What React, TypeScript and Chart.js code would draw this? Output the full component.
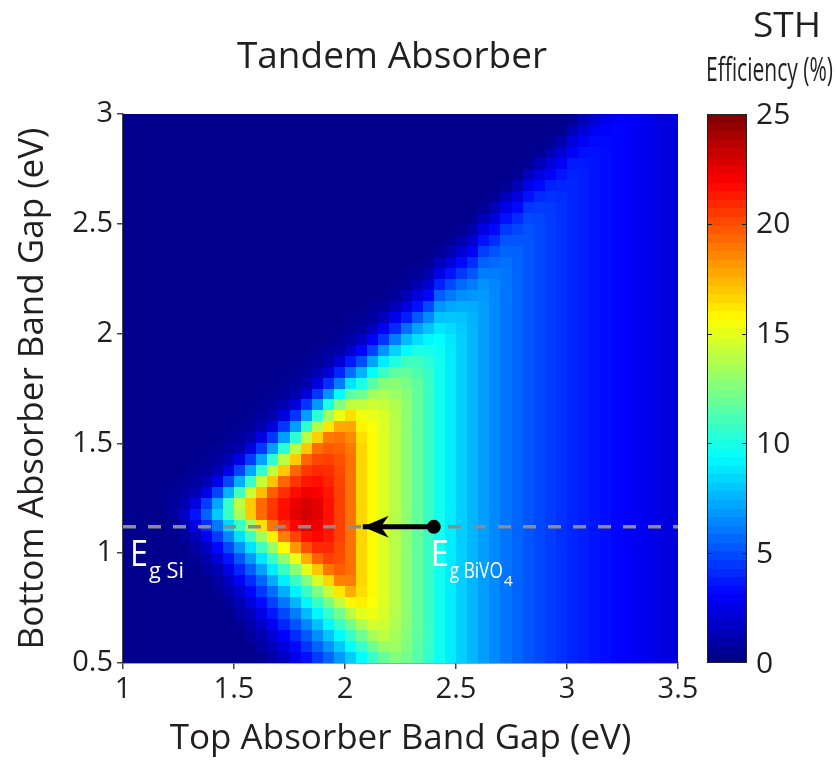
import React, { useEffect, useRef } from "react";
import { Chart, registerables } from "chart.js";

Chart.register(...registerables);

const FONT = '"Open Sans", "Liberation Sans", sans-serif';
const TEXT = "#231f20";

// Top absorber band gap – cell centres (eV)
const topGap = [
  1.025, 1.075, 1.125, 1.175, 1.225, 1.275, 1.325, 1.375, 1.425, 1.475,
  1.525, 1.575, 1.625, 1.675, 1.725, 1.775, 1.825, 1.875, 1.925, 1.975,
  2.025, 2.075, 2.125, 2.175, 2.225, 2.275, 2.325, 2.375, 2.425, 2.475,
  2.525, 2.575, 2.625, 2.675, 2.725, 2.775, 2.825, 2.875, 2.925, 2.975,
  3.025, 3.075, 3.125, 3.175, 3.225, 3.275, 3.325, 3.375, 3.425, 3.475,
];
// Bottom absorber band gap – cell centres (eV)
const bottomGap = [
  0.525, 0.575, 0.625, 0.675, 0.725, 0.775, 0.825, 0.875, 0.925, 0.975,
  1.025, 1.075, 1.125, 1.175, 1.225, 1.275, 1.325, 1.375, 1.425, 1.475,
  1.525, 1.575, 1.625, 1.675, 1.725, 1.775, 1.825, 1.875, 1.925, 1.975,
  2.025, 2.075, 2.125, 2.175, 2.225, 2.275, 2.325, 2.375, 2.425, 2.475,
  2.525, 2.575, 2.625, 2.675, 2.725, 2.775, 2.825, 2.875, 2.925, 2.975,
];

const N = 0.3; // dark-blue background level

// STH efficiency (%) : one row per bottom gap (0.525 eV first), one value per top gap
const sthEfficiency: number[][] = [
  [N, N, N, N, N, N, N, N, N, N,  N, N, 0.5, 1.0, 1.6, 2.6, 3.5, 4.6, 5.6, 6.9,  8.1, 9.4, 10.7, 11.9, 12.6, 12.2, 11.5, 10.6, 9.7, 8.9,  8.2, 7.6, 7.0, 6.5, 6.0, 5.6, 5.2, 4.9, 4.6, 4.3,  4.0, 3.8, 3.6, 3.4, 3.2, 3.0, 2.8, 2.6, 2.4, 2.3],
  [N, N, N, N, N, N, N, N, N, N,  N, N, 0.9, 1.4, 2.3, 3.3, 4.4, 5.5, 6.7, 8.0,  9.4, 10.7, 12.0, 13.0, 13.2, 12.5, 11.6, 10.7, 9.8, 8.9,  8.2, 7.6, 7.0, 6.5, 6.0, 5.6, 5.2, 4.9, 4.6, 4.3,  4.0, 3.8, 3.6, 3.4, 3.2, 3.0, 2.8, 2.6, 2.4, 2.3],
  [N, N, N, N, N, N, N, N, N, N,  N, 0.7, 1.2, 2.1, 3.1, 4.2, 5.3, 6.6, 7.9, 9.3,  10.7, 12.1, 13.4, 14.0, 13.4, 12.6, 11.7, 10.8, 9.8, 8.9,  8.2, 7.6, 7.0, 6.5, 6.0, 5.6, 5.2, 4.9, 4.6, 4.3,  4.0, 3.8, 3.6, 3.4, 3.2, 3.0, 2.8, 2.6, 2.4, 2.3],
  [N, N, N, N, N, N, N, N, N, N,  0.5, 1.1, 1.8, 2.8, 4.0, 5.1, 6.4, 7.8, 9.3, 10.7,  12.2, 13.6, 14.6, 14.4, 13.6, 12.7, 11.8, 10.8, 9.8, 8.9,  8.2, 7.6, 7.0, 6.5, 6.0, 5.6, 5.2, 4.9, 4.6, 4.3,  4.0, 3.8, 3.6, 3.4, 3.2, 3.0, 2.8, 2.6, 2.4, 2.3],
  [N, N, N, N, N, N, N, N, N, N,  0.9, 1.5, 2.5, 3.7, 4.9, 6.2, 7.7, 9.2, 10.7, 12.2,  13.9, 15.0, 15.2, 14.7, 13.8, 12.8, 11.8, 10.8, 9.8, 8.9,  8.2, 7.6, 7.0, 6.5, 6.0, 5.6, 5.2, 4.9, 4.6, 4.3,  4.0, 3.8, 3.6, 3.4, 3.2, 3.0, 2.8, 2.6, 2.4, 2.3],
  [N, N, N, N, N, N, N, N, N, 0.7,  1.3, 2.3, 3.4, 4.7, 6.0, 7.6, 9.2, 10.8, 12.3, 14.1,  15.8, 16.0, 15.6, 14.8, 13.8, 12.8, 11.8, 10.8, 9.8, 8.9,  8.2, 7.6, 7.0, 6.5, 6.0, 5.6, 5.2, 4.9, 4.6, 4.3,  4.0, 3.8, 3.6, 3.4, 3.2, 3.0, 2.8, 2.6, 2.4, 2.3],
  [N, N, N, N, N, N, N, N, 0.5, 1.1,  1.9, 3.2, 4.5, 5.8, 7.4, 9.1, 10.8, 12.4, 14.3, 16.2,  17.6, 16.4, 15.7, 14.8, 13.8, 12.8, 11.8, 10.8, 9.8, 8.9,  8.2, 7.6, 7.0, 6.5, 6.0, 5.6, 5.2, 4.9, 4.6, 4.3,  4.0, 3.8, 3.6, 3.4, 3.2, 3.0, 2.8, 2.6, 2.4, 2.3],
  [N, N, N, N, N, N, N, N, 0.9, 1.6,  2.9, 4.2, 5.6, 7.3, 9.0, 10.8, 12.5, 14.6, 16.6, 18.7,  18.8, 16.6, 15.7, 14.8, 13.8, 12.8, 11.8, 10.8, 9.8, 8.9,  8.2, 7.6, 7.0, 6.5, 6.0, 5.6, 5.2, 4.9, 4.6, 4.3,  4.0, 3.8, 3.6, 3.4, 3.2, 3.0, 2.8, 2.6, 2.4, 2.3],
  [N, N, N, N, N, N, N, 0.7, 1.3, 2.5,  4.0, 5.4, 7.1, 8.9, 10.8, 12.7, 14.9, 17.0, 19.0, 19.6,  19.1, 16.6, 15.7, 14.8, 13.8, 12.8, 11.8, 10.8, 9.8, 8.9,  8.2, 7.6, 7.0, 6.5, 6.0, 5.6, 5.2, 4.9, 4.6, 4.3,  4.0, 3.8, 3.6, 3.4, 3.2, 3.0, 2.8, 2.6, 2.4, 2.3],
  [N, N, N, N, N, N, 0.5, 1.1, 2.2, 3.6,  5.2, 6.9, 8.8, 10.8, 12.9, 15.2, 17.6, 19.5, 20.3, 20.0,  19.1, 16.6, 15.7, 14.8, 13.8, 12.8, 11.8, 10.8, 9.8, 8.9,  8.2, 7.6, 7.0, 6.5, 6.0, 5.6, 5.2, 4.9, 4.6, 4.3,  4.0, 3.8, 3.6, 3.4, 3.2, 3.0, 2.8, 2.6, 2.4, 2.3],
  [N, N, N, N, N, N, 0.9, 1.7, 3.3, 4.9,  6.7, 8.7, 10.9, 13.1, 15.6, 18.2, 19.9, 20.9, 20.9, 20.1,  19.1, 16.6, 15.7, 14.8, 13.8, 12.8, 11.8, 10.8, 9.8, 8.9,  8.2, 7.6, 7.0, 6.5, 6.0, 5.6, 5.2, 4.9, 4.6, 4.3,  4.0, 3.8, 3.6, 3.4, 3.2, 3.0, 2.8, 2.6, 2.4, 2.3],
  [N, N, N, N, N, 0.7, 1.4, 2.9, 4.6, 6.4,  8.6, 10.9, 13.3, 16.0, 18.8, 20.2, 21.4, 21.8, 21.3, 20.3,  19.1, 16.6, 15.7, 14.8, 13.8, 12.8, 11.8, 10.8, 9.8, 8.9,  8.2, 7.6, 7.0, 6.5, 6.0, 5.6, 5.2, 4.9, 4.6, 4.3,  4.0, 3.8, 3.6, 3.4, 3.2, 3.0, 2.8, 2.6, 2.4, 2.3],
  [N, N, N, N, 0.5, 1.2, 2.5, 4.3, 6.1, 8.4,  10.8, 13.4, 16.4, 19.0, 20.7, 21.8, 22.6, 22.3, 21.4, 20.3,  19.1, 16.6, 15.7, 14.8, 13.8, 12.8, 11.8, 10.8, 9.8, 8.9,  8.2, 7.6, 7.0, 6.5, 6.0, 5.6, 5.2, 4.9, 4.6, 4.3,  4.0, 3.8, 3.6, 3.4, 3.2, 3.0, 2.8, 2.6, 2.4, 2.3],
  [N, N, N, N, 0.8, 1.8, 3.6, 5.6, 8.1, 10.7,  13.5, 16.9, 19.3, 20.6, 21.6, 22.5, 23.0, 22.6, 21.5, 20.3,  19.1, 16.6, 15.7, 14.8, 13.8, 12.8, 11.8, 10.8, 9.8, 8.9,  8.2, 7.6, 7.0, 6.5, 6.0, 5.6, 5.2, 4.9, 4.6, 4.3,  4.0, 3.8, 3.6, 3.4, 3.2, 3.0, 2.8, 2.6, 2.4, 2.3],
  [N, N, N, 0.4, 0.7, 1.2, 2.4, 4.6, 7.2, 10.7,  14.0, 16.9, 19.3, 20.5, 21.5, 22.4, 22.9, 22.5, 21.5, 20.3,  19.1, 16.6, 15.7, 14.8, 13.8, 12.8, 11.8, 10.8, 9.8, 8.9,  8.2, 7.6, 7.0, 6.5, 6.0, 5.6, 5.2, 4.9, 4.6, 4.3,  4.0, 3.8, 3.6, 3.4, 3.2, 3.0, 2.8, 2.6, 2.4, 2.3],
  [N, N, N, 0.4, 0.5, 0.8, 1.3, 2.5, 4.8, 7.5,  11.0, 14.4, 17.2, 19.6, 20.7, 21.6, 22.2, 22.0, 21.3, 20.3,  19.1, 16.6, 15.7, 14.8, 13.8, 12.8, 11.8, 10.8, 9.8, 8.9,  8.2, 7.6, 7.0, 6.5, 6.0, 5.6, 5.2, 4.9, 4.6, 4.3,  4.0, 3.8, 3.6, 3.4, 3.2, 3.0, 2.8, 2.6, 2.4, 2.3],
  [N, N, N, N, 0.4, 0.5, 0.8, 1.3, 2.5, 4.8,  7.4, 10.8, 14.2, 17.1, 19.4, 20.6, 21.3, 21.5, 21.0, 20.2,  19.1, 16.6, 15.7, 14.8, 13.8, 12.8, 11.8, 10.8, 9.8, 8.9,  8.2, 7.6, 7.0, 6.5, 6.0, 5.6, 5.2, 4.9, 4.6, 4.3,  4.0, 3.8, 3.6, 3.4, 3.2, 3.0, 2.8, 2.6, 2.4, 2.3],
  [N, N, N, N, N, 0.4, 0.5, 0.8, 1.3, 2.5,  4.7, 7.2, 10.6, 14.0, 16.9, 19.4, 20.5, 20.9, 20.8, 20.1,  19.1, 16.6, 15.7, 14.8, 13.8, 12.8, 11.8, 10.8, 9.8, 8.9,  8.2, 7.6, 7.0, 6.5, 6.0, 5.6, 5.2, 4.9, 4.6, 4.3,  4.0, 3.8, 3.6, 3.4, 3.2, 3.0, 2.8, 2.6, 2.4, 2.3],
  [N, N, N, N, N, N, 0.4, 0.5, 0.8, 1.3,  2.5, 4.6, 7.1, 10.5, 13.9, 16.9, 19.4, 20.2, 20.3, 19.9,  19.1, 16.6, 15.7, 14.8, 13.8, 12.8, 11.8, 10.8, 9.8, 8.9,  8.2, 7.6, 7.0, 6.5, 6.0, 5.6, 5.2, 4.9, 4.6, 4.3,  4.0, 3.8, 3.6, 3.4, 3.2, 3.0, 2.8, 2.6, 2.4, 2.3],
  [N, N, N, N, N, N, N, 0.4, 0.5, 0.8,  1.2, 2.4, 4.5, 7.0, 10.4, 13.9, 17.0, 19.2, 19.7, 19.5,  18.9, 16.6, 15.7, 14.8, 13.8, 12.8, 11.8, 10.8, 9.8, 8.9,  8.2, 7.6, 7.0, 6.5, 6.0, 5.6, 5.2, 4.9, 4.6, 4.3,  4.0, 3.8, 3.6, 3.4, 3.2, 3.0, 2.8, 2.6, 2.4, 2.3],
  [N, N, N, N, N, N, N, N, 0.4, 0.5,  0.7, 1.2, 2.4, 4.4, 7.0, 10.4, 14.0, 16.8, 18.9, 19.1,  18.5, 16.4, 15.7, 14.8, 13.8, 12.8, 11.8, 10.8, 9.8, 8.9,  8.2, 7.6, 7.0, 6.5, 6.0, 5.6, 5.2, 4.9, 4.6, 4.3,  4.0, 3.8, 3.6, 3.4, 3.2, 3.0, 2.8, 2.6, 2.4, 2.3],
  [N, N, N, N, N, N, N, N, N, 0.4,  0.5, 0.7, 1.2, 2.3, 4.4, 7.0, 10.5, 13.8, 16.2, 17.7,  17.8, 15.9, 15.5, 14.8, 13.8, 12.8, 11.8, 10.8, 9.8, 8.9,  8.2, 7.6, 7.0, 6.5, 6.0, 5.6, 5.2, 4.9, 4.6, 4.3,  4.0, 3.8, 3.6, 3.4, 3.2, 3.0, 2.8, 2.6, 2.4, 2.3],
  [N, N, N, N, N, N, N, N, N, N,  0.4, 0.5, 0.7, 1.2, 2.3, 4.4, 7.0, 10.4, 13.3, 15.2,  16.4, 15.3, 15.1, 14.7, 13.8, 12.8, 11.8, 10.8, 9.8, 8.9,  8.2, 7.6, 7.0, 6.5, 6.0, 5.6, 5.2, 4.9, 4.6, 4.3,  4.0, 3.8, 3.6, 3.4, 3.2, 3.0, 2.8, 2.6, 2.4, 2.3],
  [N, N, N, N, N, N, N, N, N, N,  N, 0.4, 0.5, 0.7, 1.2, 2.3, 4.4, 6.9, 10.0, 12.5,  14.1, 14.1, 14.4, 14.2, 13.7, 12.8, 11.8, 10.8, 9.8, 8.9,  8.2, 7.6, 7.0, 6.5, 6.0, 5.6, 5.2, 4.9, 4.6, 4.3,  4.0, 3.8, 3.6, 3.4, 3.2, 3.0, 2.8, 2.6, 2.4, 2.3],
  [N, N, N, N, N, N, N, N, N, N,  N, N, 0.4, 0.5, 0.7, 1.2, 2.3, 4.4, 6.7, 9.4,  11.6, 12.1, 13.3, 13.6, 13.2, 12.7, 11.8, 10.8, 9.8, 8.9,  8.2, 7.6, 7.0, 6.5, 6.0, 5.6, 5.2, 4.9, 4.6, 4.3,  4.0, 3.8, 3.6, 3.4, 3.2, 3.0, 2.8, 2.6, 2.4, 2.3],
  [N, N, N, N, N, N, N, N, N, N,  N, N, N, 0.4, 0.5, 0.7, 1.2, 2.3, 4.2, 6.2,  8.7, 10.0, 11.5, 12.6, 12.7, 12.3, 11.7, 10.8, 9.8, 8.9,  8.2, 7.6, 7.0, 6.5, 6.0, 5.6, 5.2, 4.9, 4.6, 4.3,  4.0, 3.8, 3.6, 3.4, 3.2, 3.0, 2.8, 2.6, 2.4, 2.3],
  [N, N, N, N, N, N, N, N, N, N,  N, N, N, N, 0.4, 0.5, 0.7, 1.2, 2.2, 4.0,  5.8, 7.5, 9.4, 10.8, 11.7, 11.8, 11.3, 10.7, 9.8, 8.9,  8.2, 7.6, 7.0, 6.5, 6.0, 5.6, 5.2, 4.9, 4.6, 4.3,  4.0, 3.8, 3.6, 3.4, 3.2, 3.0, 2.8, 2.6, 2.4, 2.3],
  [N, N, N, N, N, N, N, N, N, N,  N, N, N, N, N, N, 0.5, 0.7, 1.1, 2.1,  3.7, 5.0, 7.1, 8.9, 10.1, 10.9, 10.9, 10.4, 9.8, 8.9,  8.2, 7.6, 7.0, 6.5, 6.0, 5.6, 5.2, 4.9, 4.6, 4.3,  4.0, 3.8, 3.6, 3.4, 3.2, 3.0, 2.8, 2.6, 2.4, 2.3],
  [N, N, N, N, N, N, N, N, N, N,  N, N, N, N, N, N, N, 0.5, 0.7, 1.0,  1.9, 3.2, 4.7, 6.7, 8.3, 9.3, 10.0, 9.9, 9.7, 8.9,  8.2, 7.6, 7.0, 6.5, 6.0, 5.6, 5.2, 4.9, 4.6, 4.3,  4.0, 3.8, 3.6, 3.4, 3.2, 3.0, 2.8, 2.6, 2.4, 2.3],
  [N, N, N, N, N, N, N, N, N, N,  N, N, N, N, N, N, N, N, 0.4, 0.6,  1.0, 1.7, 3.0, 4.4, 6.2, 7.7, 8.6, 9.2, 9.4, 8.8,  8.2, 7.6, 7.0, 6.5, 6.0, 5.6, 5.2, 4.9, 4.6, 4.3,  4.0, 3.8, 3.6, 3.4, 3.2, 3.0, 2.8, 2.6, 2.4, 2.3],
  [N, N, N, N, N, N, N, N, N, N,  N, N, N, N, N, N, N, N, N, 0.4,  0.6, 0.8, 1.6, 2.8, 4.1, 5.8, 7.1, 7.9, 8.8, 8.5,  8.1, 7.6, 7.0, 6.5, 6.0, 5.6, 5.2, 4.9, 4.6, 4.3,  4.0, 3.8, 3.6, 3.4, 3.2, 3.0, 2.8, 2.6, 2.4, 2.3],
  [N, N, N, N, N, N, N, N, N, N,  N, N, N, N, N, N, N, N, N, N,  0.4, 0.5, 0.8, 1.5, 2.6, 3.8, 5.3, 6.5, 7.9, 8.0,  7.9, 7.5, 7.0, 6.5, 6.0, 5.6, 5.2, 4.9, 4.6, 4.3,  4.0, 3.8, 3.6, 3.4, 3.2, 3.0, 2.8, 2.6, 2.4, 2.3],
  [N, N, N, N, N, N, N, N, N, N,  N, N, N, N, N, N, N, N, N, N,  N, N, 0.5, 0.7, 1.4, 2.4, 3.5, 4.9, 6.8, 7.2,  7.4, 7.3, 7.0, 6.5, 6.0, 5.6, 5.2, 4.9, 4.6, 4.3,  4.0, 3.8, 3.6, 3.4, 3.2, 3.0, 2.8, 2.6, 2.4, 2.3],
  [N, N, N, N, N, N, N, N, N, N,  N, N, N, N, N, N, N, N, N, N,  N, N, N, 0.4, 0.7, 1.3, 2.2, 3.2, 5.4, 6.1,  6.6, 6.8, 6.9, 6.5, 6.0, 5.6, 5.2, 4.9, 4.6, 4.3,  4.0, 3.8, 3.6, 3.4, 3.2, 3.0, 2.8, 2.6, 2.4, 2.3],
  [N, N, N, N, N, N, N, N, N, N,  N, N, N, N, N, N, N, N, N, N,  N, N, N, N, 0.4, 0.6, 1.2, 2.1, 3.9, 4.9,  5.7, 6.2, 6.7, 6.4, 6.0, 5.6, 5.2, 4.9, 4.6, 4.3,  4.0, 3.8, 3.6, 3.4, 3.2, 3.0, 2.8, 2.6, 2.4, 2.3],
  [N, N, N, N, N, N, N, N, N, N,  N, N, N, N, N, N, N, N, N, N,  N, N, N, N, N, 0.4, 0.6, 1.1, 2.5, 3.6,  4.5, 5.2, 6.2, 6.2, 6.0, 5.6, 5.2, 4.9, 4.6, 4.3,  4.0, 3.8, 3.6, 3.4, 3.2, 3.0, 2.8, 2.6, 2.4, 2.3],
  [N, N, N, N, N, N, N, N, N, N,  N, N, N, N, N, N, N, N, N, N,  N, N, N, N, N, N, N, 0.5, 1.4, 2.3,  3.3, 4.2, 5.5, 5.7, 5.9, 5.6, 5.2, 4.9, 4.6, 4.3,  4.0, 3.8, 3.6, 3.4, 3.2, 3.0, 2.8, 2.6, 2.4, 2.3],
  [N, N, N, N, N, N, N, N, N, N,  N, N, N, N, N, N, N, N, N, N,  N, N, N, N, N, N, N, N, 0.6, 1.2,  2.1, 3.0, 4.6, 5.1, 5.6, 5.5, 5.2, 4.9, 4.6, 4.3,  4.0, 3.8, 3.6, 3.4, 3.2, 3.0, 2.8, 2.6, 2.4, 2.3],
  [N, N, N, N, N, N, N, N, N, N,  N, N, N, N, N, N, N, N, N, N,  N, N, N, N, N, N, N, N, N, 0.5,  1.1, 2.0, 3.5, 4.2, 5.2, 5.2, 5.2, 4.9, 4.6, 4.3,  4.0, 3.8, 3.6, 3.4, 3.2, 3.0, 2.8, 2.6, 2.4, 2.3],
  [N, N, N, N, N, N, N, N, N, N,  N, N, N, N, N, N, N, N, N, N,  N, N, N, N, N, N, N, N, N, N,  0.5, 1.1, 2.4, 3.3, 4.5, 4.8, 5.1, 4.9, 4.6, 4.3,  4.0, 3.8, 3.6, 3.4, 3.2, 3.0, 2.8, 2.6, 2.4, 2.3],
  [N, N, N, N, N, N, N, N, N, N,  N, N, N, N, N, N, N, N, N, N,  N, N, N, N, N, N, N, N, N, N,  N, 0.5, 1.4, 2.2, 3.5, 4.2, 4.9, 4.8, 4.6, 4.3,  4.0, 3.8, 3.6, 3.4, 3.2, 3.0, 2.8, 2.6, 2.4, 2.3],
  [N, N, N, N, N, N, N, N, N, N,  N, N, N, N, N, N, N, N, N, N,  N, N, N, N, N, N, N, N, N, N,  N, N, 0.6, 1.3, 2.5, 3.3, 4.4, 4.6, 4.5, 4.3,  4.0, 3.8, 3.6, 3.4, 3.2, 3.0, 2.8, 2.6, 2.4, 2.3],
  [N, N, N, N, N, N, N, N, N, N,  N, N, N, N, N, N, N, N, N, N,  N, N, N, N, N, N, N, N, N, N,  N, N, N, 0.5, 1.4, 2.3, 3.5, 4.1, 4.3, 4.2,  4.0, 3.8, 3.6, 3.4, 3.2, 3.0, 2.8, 2.6, 2.4, 2.3],
  [N, N, N, N, N, N, N, N, N, N,  N, N, N, N, N, N, N, N, N, N,  N, N, N, N, N, N, N, N, N, N,  N, N, N, N, 0.5, 1.3, 2.5, 3.3, 3.9, 4.0,  4.0, 3.8, 3.6, 3.4, 3.2, 3.0, 2.8, 2.6, 2.4, 2.3],
  [N, N, N, N, N, N, N, N, N, N,  N, N, N, N, N, N, N, N, N, N,  N, N, N, N, N, N, N, N, N, N,  N, N, N, N, N, 0.5, 1.5, 2.4, 3.1, 3.6,  3.9, 3.8, 3.6, 3.4, 3.2, 3.0, 2.8, 2.6, 2.4, 2.3],
  [N, N, N, N, N, N, N, N, N, N,  N, N, N, N, N, N, N, N, N, N,  N, N, N, N, N, N, N, N, N, N,  N, N, N, N, N, N, 0.5, 1.4, 2.2, 2.9,  3.7, 3.7, 3.6, 3.4, 3.2, 3.0, 2.8, 2.6, 2.4, 2.3],
  [N, N, N, N, N, N, N, N, N, N,  N, N, N, N, N, N, N, N, N, N,  N, N, N, N, N, N, N, N, N, N,  N, N, N, N, N, N, N, 0.5, 1.3, 2.1,  3.1, 3.5, 3.5, 3.4, 3.2, 3.0, 2.8, 2.6, 2.4, 2.3],
  [N, N, N, N, N, N, N, N, N, N,  N, N, N, N, N, N, N, N, N, N,  N, N, N, N, N, N, N, N, N, N,  N, N, N, N, N, N, N, N, 0.5, 1.2,  2.3, 3.0, 3.3, 3.3, 3.2, 3.0, 2.8, 2.6, 2.4, 2.3],
  [N, N, N, N, N, N, N, N, N, N,  N, N, N, N, N, N, N, N, N, N,  N, N, N, N, N, N, N, N, N, N,  N, N, N, N, N, N, N, N, N, 0.4,  1.4, 2.2, 2.8, 3.1, 3.2, 3.0, 2.8, 2.6, 2.4, 2.3],
  [N, N, N, N, N, N, N, N, N, N,  N, N, N, N, N, N, N, N, N, N,  N, N, N, N, N, N, N, N, N, N,  N, N, N, N, N, N, N, N, N, N,  0.5, 1.3, 2.1, 2.7, 3.0, 3.0, 2.8, 2.6, 2.4, 2.3],
];

const xTicks = [1, 1.5, 2, 2.5, 3, 3.5];
const yTicks = [0.5, 1, 1.5, 2, 2.5, 3];
const colorTicks = [0, 5, 10, 15, 20, 25];
const colorMin = 0;
const colorMax = 25;
const siGap = 1.12;
const bivo4Gap = 2.4;
const arrowHeadAt = 2.08;

function jet(v: number, levels = 0): string {
  let t = (v - colorMin) / (colorMax - colorMin);
  if (!isFinite(t)) t = 0;
  t = Math.max(0, Math.min(1, t));
  if (levels) {
    const i = Math.min(levels - 1, Math.floor(t * levels));
    t = (i + 0.5) / levels;
  }
  const c = (a: number) => Math.round(255 * Math.max(0, Math.min(1, a)));
  return `rgb(${c(1.5 - Math.abs(4 * t - 3))},${c(1.5 - Math.abs(4 * t - 2))},${c(1.5 - Math.abs(4 * t - 1))})`;
}

function drawFitted(
  ctx: CanvasRenderingContext2D,
  text: string,
  x: number,
  baseline: number,
  size: number,
  width: number,
  align: "left" | "center",
  color: string
) {
  ctx.save();
  ctx.font = `${size}px ${FONT}`;
  ctx.fillStyle = color;
  ctx.textBaseline = "alphabetic";
  ctx.textAlign = "left";
  const w = ctx.measureText(text).width;
  const s = width > 0 ? width / w : 1;
  const left = align === "center" ? x - (w * s) / 2 : x;
  ctx.translate(left, baseline);
  ctx.scale(s, 1);
  ctx.fillText(text, 0, 0);
  ctx.restore();
}

const heatmapPlugin = {
  id: "heatmap",
  beforeDatasetsDraw(chart: any) {
    const { ctx, chartArea, scales } = chart;
    const xs = scales.x;
    const ys = scales.y;
    const hx = (topGap[1] - topGap[0]) / 2;
    const hy = (bottomGap[1] - bottomGap[0]) / 2;
    ctx.save();
    ctx.beginPath();
    ctx.rect(chartArea.left, chartArea.top, chartArea.right - chartArea.left, chartArea.bottom - chartArea.top);
    ctx.clip();
    bottomGap.forEach((yc, i) => {
      const row = sthEfficiency[i];
      const y0 = Math.round(ys.getPixelForValue(yc + hy));
      const y1 = Math.round(ys.getPixelForValue(yc - hy));
      topGap.forEach((xc, j) => {
        const x0 = Math.round(xs.getPixelForValue(xc - hx));
        const x1 = Math.round(xs.getPixelForValue(xc + hx));
        ctx.fillStyle = jet(row[j]);
        ctx.fillRect(x0, y0, x1 - x0, y1 - y0);
      });
    });
    ctx.restore();
  },
};

const annotationPlugin = {
  id: "annotations",
  afterDatasetsDraw(chart: any) {
    const { ctx, scales } = chart;
    const xs = scales.x;
    const ys = scales.y;
    const yLine = ys.getPixelForValue(siGap);
    const tx = xs.getPixelForValue(arrowHeadAt);
    ctx.save();
    ctx.fillStyle = "#000";
    ctx.beginPath();
    ctx.moveTo(tx, yLine);
    ctx.lineTo(tx + 26, yLine - 11);
    ctx.lineTo(tx + 18, yLine);
    ctx.lineTo(tx + 26, yLine + 11);
    ctx.closePath();
    ctx.fill();
    ctx.restore();

    const sx = xs.getPixelForValue(1) + 7;
    drawFitted(ctx, "E", sx, yLine + 39, 37, 18, "left", "#fff");
    drawFitted(ctx, "g Si", sx + 19, yLine + 51, 22, 35, "left", "#fff");
    const bx = xs.getPixelForValue(bivo4Gap) - 3;
    drawFitted(ctx, "E", bx, yLine + 39, 37, 18, "left", "#fff");
    drawFitted(ctx, "g BiVO", bx + 19, yLine + 51, 22, 53, "left", "#fff");
    drawFitted(ctx, "4", bx + 73, yLine + 59, 15, 9, "left", "#fff");
  },
  afterDraw(chart: any) {
    const { ctx, chartArea } = chart;
    drawFitted(ctx, "Tandem Absorber", 392, 68, 37, 310, "center", TEXT);
    const left = chartArea.right + 29;
    const width = 40;
    const top = chartArea.top;
    const bottom = chartArea.bottom;
    const py = (v: number) => bottom - ((v - colorMin) / (colorMax - colorMin)) * (bottom - top);
    const levels = 64;
    for (let i = 0; i < levels; i++) {
      const v0 = colorMin + ((colorMax - colorMin) * i) / levels;
      const v1 = colorMin + ((colorMax - colorMin) * (i + 1)) / levels;
      const p0 = Math.round(py(v0));
      const p1 = Math.round(py(v1));
      ctx.fillStyle = jet((v0 + v1) / 2);
      ctx.fillRect(left, p1, width, p0 - p1);
    }
    ctx.save();
    ctx.strokeStyle = "#222";
    ctx.lineWidth = 1;
    ctx.strokeRect(left + 0.5, top + 0.5, width - 1, bottom - top - 1);
    ctx.beginPath();
    colorTicks.forEach((v) => {
      if (v === colorMin || v === colorMax) return;
      const p = Math.round(py(v)) + 0.5;
      ctx.moveTo(left, p);
      ctx.lineTo(left + 5, p);
      ctx.moveTo(left + width, p);
      ctx.lineTo(left + width - 5, p);
    });
    ctx.stroke();
    ctx.restore();
    ctx.save();
    ctx.font = `30px ${FONT}`;
    ctx.fillStyle = TEXT;
    ctx.textBaseline = "middle";
    ctx.textAlign = "left";
    colorTicks.forEach((v) => {
      ctx.fillText(String(v), left + width + 9, py(v) + 1);
    });
    ctx.restore();
    drawFitted(ctx, "STH", 787, 37, 34, 68, "center", TEXT);
    drawFitted(ctx, "Efficiency (%)", 706, 81, 33, 127, "left", TEXT);
  },
};

export default function App() {
  const ref = useRef<HTMLCanvasElement | null>(null);
  useEffect(() => {
    if (!ref.current) return;
    Chart.defaults.font.family = FONT;
    Chart.defaults.color = TEXT;
    const chart = new Chart(ref.current, {
      type: "scatter",
      data: {
        datasets: [
          {
            type: "line",
            label: "BiVO4 band gap arrow",
            data: [
              { x: bivo4Gap, y: siGap },
              { x: arrowHeadAt, y: siGap },
            ],
            borderColor: "#000",
            borderWidth: 5,
            pointRadius: [7, 0],
            pointBackgroundColor: "#000",
            pointBorderWidth: 0,
            order: 0,
          },
          {
            type: "line",
            label: "Si band gap",
            data: [
              { x: 1, y: siGap },
              { x: 3.5, y: siGap },
            ],
            borderColor: "#8c8c8c",
            borderWidth: 3.5,
            borderDash: [13, 12],
            pointRadius: 0,
            order: 1,
          },
        ],
      },
      options: {
        responsive: false,
        animation: false,
        devicePixelRatio: 1,
        layout: { padding: { left: 0, right: 159, top: 114, bottom: 0 } },
        plugins: {
          legend: { display: false },
          tooltip: { enabled: false },
          title: { display: false },
        },
        scales: {
          x: {
            type: "linear",
            min: 1,
            max: 3.5,
            position: "bottom",
            z: 1,
            afterBuildTicks: (s: any) => {
              s.ticks = xTicks.map((v) => ({ value: v }));
            },
            afterFit: (s: any) => {
              s.height = 98;
            },
            ticks: {
              autoSkip: false,
              maxRotation: 0,
              padding: 3,
              color: TEXT,
              font: { size: 29 },
              callback: (v: any) => String(v),
            },
            grid: { display: true, drawOnChartArea: false, drawTicks: true, tickLength: 6, color: "#444", lineWidth: 1.5 },
            border: { display: true, color: "#444", width: 1.5 },
            title: {
              display: true,
              text: "Top Absorber Band Gap (eV)",
              color: TEXT,
              font: { size: 35 },
              padding: { top: 0, bottom: 1 },
            },
          },
          y: {
            type: "linear",
            min: 0.5,
            max: 3,
            position: "left",
            z: 1,
            afterBuildTicks: (s: any) => {
              s.ticks = yTicks.map((v) => ({ value: v }));
            },
            afterFit: (s: any) => {
              s.width = 123;
            },
            ticks: {
              autoSkip: false,
              padding: 4,
              color: TEXT,
              font: { size: 29 },
              callback: (v: any) => String(v),
            },
            grid: { display: true, drawOnChartArea: false, drawTicks: true, tickLength: 6, color: "#444", lineWidth: 1.5 },
            border: { display: true, color: "#444", width: 1.5 },
            title: {
              display: true,
              text: "Bottom Absorber Band Gap (eV)",
              color: TEXT,
              font: { size: 35 },
              padding: { top: 12, bottom: 0 },
            },
          },
        },
      },
      plugins: [heatmapPlugin, annotationPlugin],
    } as any);
    return () => chart.destroy();
  }, []);
  return (
    <div style={{ position: "absolute", left: 0, top: 0, width: 837, height: 761, background: "#fff" }}>
      <canvas ref={ref} width={837} height={761} style={{ display: "block", width: 837, height: 761 }} />
    </div>
  );
}
